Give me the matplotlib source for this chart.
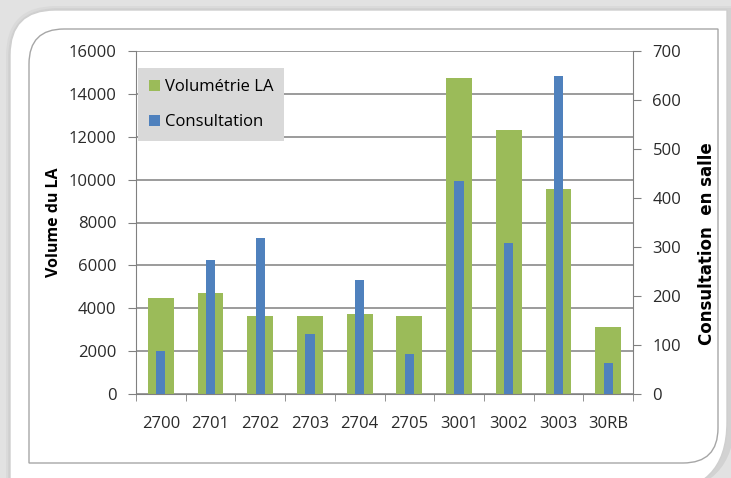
import matplotlib
matplotlib.use("Agg")
import matplotlib.pyplot as plt
from matplotlib.patches import PathPatch
from matplotlib.path import Path
import numpy as np

categories = ["2700", "2701", "2702", "2703", "2704", "2705", "3001", "3002", "3003", "30RB"]
volumetrie = [4500, 4720, 3650, 3650, 3730, 3650, 14750, 12300, 9560, 3140]
consultation = [88, 273, 318, 122, 232, 81, 435, 308, 649, 63]

plt.rcParams['font.family'] = ['Open Sans', 'DejaVu Sans']

W, H = 731, 478
fig = plt.figure(figsize=(W/100, H/100), dpi=100)
fig.patch.set_facecolor('#e2e2e2')


def two_corner_rect(x0, y0, x1, y1, rtl, rbr):
    # y grows downward; rounded top-left and bottom-right corners
    verts, codes = [], []
    verts.append((x0, y0 + rtl)); codes.append(Path.MOVETO)
    verts += [(x0, y0), (x0 + rtl, y0)]; codes += [Path.CURVE3, Path.CURVE3]
    verts.append((x1, y0)); codes.append(Path.LINETO)
    verts.append((x1, y1 - rbr)); codes.append(Path.LINETO)
    verts += [(x1, y1), (x1 - rbr, y1)]; codes += [Path.CURVE3, Path.CURVE3]
    verts.append((x0, y1)); codes.append(Path.LINETO)
    verts.append((x0, y0 + rtl)); codes.append(Path.CLOSEPOLY)
    return Path(verts, codes)


bg = fig.add_axes([0, 0, 1, 1])
bg.set_xlim(0, W); bg.set_ylim(H, 0); bg.axis('off')
for i, c in enumerate(['#dadada', '#d2d2d2']):
    bg.add_patch(PathPatch(two_corner_rect(10 - 4 + i*2, 10 - 4 + i*2, 731 + 4, 492, 50, 75),
                           facecolor=c, edgecolor='none'))
bg.add_patch(PathPatch(two_corner_rect(10, 10, 727, 492, 45, 70),
                       facecolor='white', edgecolor='#cfcfcf', lw=1))
bg.add_patch(PathPatch(two_corner_rect(29, 29, 718, 463, 35, 35),
                       facecolor='none', edgecolor='#a6a6a6', lw=1))

x0, x1, y0, y1 = 136, 633, 51, 394
ax = fig.add_axes([x0/W, 1 - y1/H, (x1-x0)/W, (y1-y0)/H])
ax.set_facecolor('none')
x = np.arange(len(categories))
gcol = '#9bbb59'
bcol = '#4f81bd'
hg = ax.bar(x, volumetrie, width=0.52, color=gcol, zorder=2, label='Volumétrie LA')
ax.set_xlim(-0.5, len(categories) - 0.5)
ax.set_ylim(0, 16000)
ax.set_yticks(range(0, 16001, 2000))
ax.yaxis.grid(True, color='#808080', lw=1.1)
ax.set_axisbelow(True)
ax.set_xticks(x)
ax.set_xticklabels(categories, fontsize=12, color='#2a2a2a')
ax.set_xticks(np.arange(-0.5, len(categories)), minor=True)
ax.tick_params(axis='x', which='major', length=0, pad=16)
ax.tick_params(axis='x', which='minor', length=5, color='#808080')
ax.tick_params(axis='y', length=6, color='#808080', labelsize=12, labelcolor='#2a2a2a', pad=8)
for s in ['top', 'right']:
    ax.spines[s].set_visible(False)
for s in ['left', 'bottom']:
    ax.spines[s].set_color('#808080')
ax.set_ylabel('Volume du LA', fontsize=11.5, fontweight='bold', labelpad=5)

ax2 = ax.twinx()
hb = ax2.bar(x, consultation, width=0.185, color=bcol, zorder=3, label='Consultation')
ax2.set_ylim(0, 700)
ax2.set_yticks(range(0, 701, 100))
ax2.tick_params(axis='y', length=6, color='#808080', labelsize=12, labelcolor='#2a2a2a', pad=8)
for s in ['top', 'left', 'bottom']:
    ax2.spines[s].set_visible(False)
ax2.spines['right'].set_color('#808080')
ax2.set_ylabel('Consultation  en salle', fontsize=12, fontweight='bold', labelpad=12,
               family=['DejaVu Sans'])
ax2.yaxis.label.set_y(0.437)

leg = ax.legend([hg, hb], ['Volumétrie LA', 'Consultation'], loc='upper left',
                bbox_to_anchor=(0.004, 0.95), borderaxespad=0, fontsize=12, frameon=True,
                fancybox=False, facecolor='#d9d9d9', edgecolor='none', framealpha=1,
                handlelength=0.65, handleheight=0.65, handletextpad=0.3,
                labelspacing=1.15, borderpad=0.65)
leg.set_zorder(5)

fig.savefig('out.png', dpi=100, facecolor=fig.get_facecolor())
